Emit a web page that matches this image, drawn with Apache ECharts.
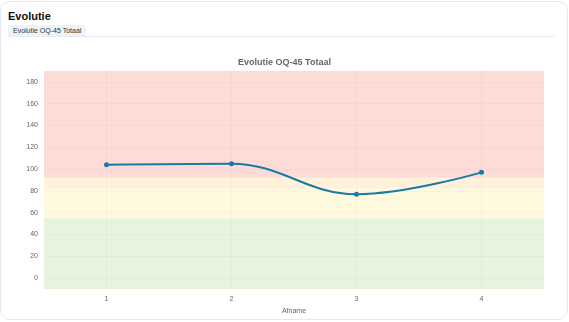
<!DOCTYPE html>
<html>
<head>
<meta charset="utf-8">
<script src="https://cdn.jsdelivr.net/npm/echarts@6/dist/echarts.min.js"></script>
<style>
html,body{margin:0;padding:0;width:569px;height:322px;background:#fff;overflow:hidden;font-family:"Liberation Sans",Arial,sans-serif;}
#card{position:absolute;left:0;top:1px;width:566px;height:317px;border:1px solid #e4e8f3;border-radius:10px;background:#fff;}
#hdr{position:absolute;left:8px;top:10px;font-size:11px;font-weight:bold;color:#111;}
#tab{position:absolute;left:8px;top:25px;height:11px;line-height:11px;padding:0 5px;font-size:7px;color:#333;background:#eff2f6;}
#sep{position:absolute;left:8px;top:36px;width:547px;height:1px;background:#e6eaf5;}
#chart{position:absolute;left:0;top:0;width:569px;height:322px;}
</style>
</head>
<body>
<div id="card"></div>
<div id="hdr">Evolutie</div>
<div id="tab">Evolutie OQ-45 Totaal</div>
<div id="sep"></div>
<div id="chart"></div>
<script>
const categories = ['1', '2', '3', '4'];
const totalScores = [104, 105, 77, 97];
const yTicks = [0, 20, 40, 60, 80, 100, 120, 140, 160, 180];
const bandRed = [92, 190];
const bandOrange = [82, 92];
const bandYellow = [55, 82];
const bandGreen = [-10, 55];

const chart = echarts.init(document.getElementById('chart'), null, {renderer: 'canvas'});
chart.setOption({
  backgroundColor: 'transparent',
  animation: false,
  title: {
    text: 'Evolutie OQ-45 Totaal',
    left: 'center', top: 53,
    textStyle: {fontSize: 9, fontWeight: 'bold', color: '#666', fontFamily: 'Liberation Sans'}
  },
  grid: {left: 44, right: 25, top: 71, bottom: 33},
  xAxis: {
    type: 'category',
    data: categories,
    boundaryGap: true,
    name: 'Afname',
    nameLocation: 'middle',
    nameGap: 19,
    nameTextStyle: {fontSize: 7, color: '#666', fontFamily: 'Liberation Sans'},
    axisLine: {show: false},
    axisTick: {show: false},
    splitLine: {show: false},
    axisLabel: {fontSize: 7, color: '#666', margin: 7, fontFamily: 'Liberation Sans'}
  },
  yAxis: {
    type: 'value',
    min: -10, max: 190, interval: 10,
    axisLine: {show: false},
    axisTick: {show: false},
    splitLine: {show: false},
    axisLabel: {
      fontSize: 7, color: '#666', margin: 6, fontFamily: 'Liberation Sans',
      formatter: v => (yTicks.indexOf(v) >= 0 ? String(v) : '')
    }
  },
  series: [{
    type: 'line',
    data: totalScores,
    smooth: 0.4,
    symbol: 'circle',
    symbolSize: 5,
    itemStyle: {color: '#177ba8'},
    lineStyle: {color: '#177ba8', width: 2},
    z: 5,
    markArea: {
      silent: true,
      data: [
        [{yAxis: bandRed[0], itemStyle: {color: '#fddcd8'}}, {yAxis: bandRed[1]}],
        [{yAxis: bandOrange[0], itemStyle: {color: '#fff2d8'}}, {yAxis: bandOrange[1]}],
        [{yAxis: bandYellow[0], itemStyle: {color: '#fff9dd'}}, {yAxis: bandYellow[1]}],
        [{yAxis: bandGreen[0], itemStyle: {color: '#e8f3de'}}, {yAxis: bandGreen[1]}]
      ]
    },
    markLine: {
      silent: true,
      symbol: ['none', 'none'],
      label: {show: false},
      lineStyle: {color: 'rgba(0,0,0,0.025)', width: 1, type: 'solid'},
      data: yTicks.map(v => ({yAxis: v})).concat(categories.map(c => ({xAxis: c})))
    }
  }]
});
</script>
</body>
</html>
